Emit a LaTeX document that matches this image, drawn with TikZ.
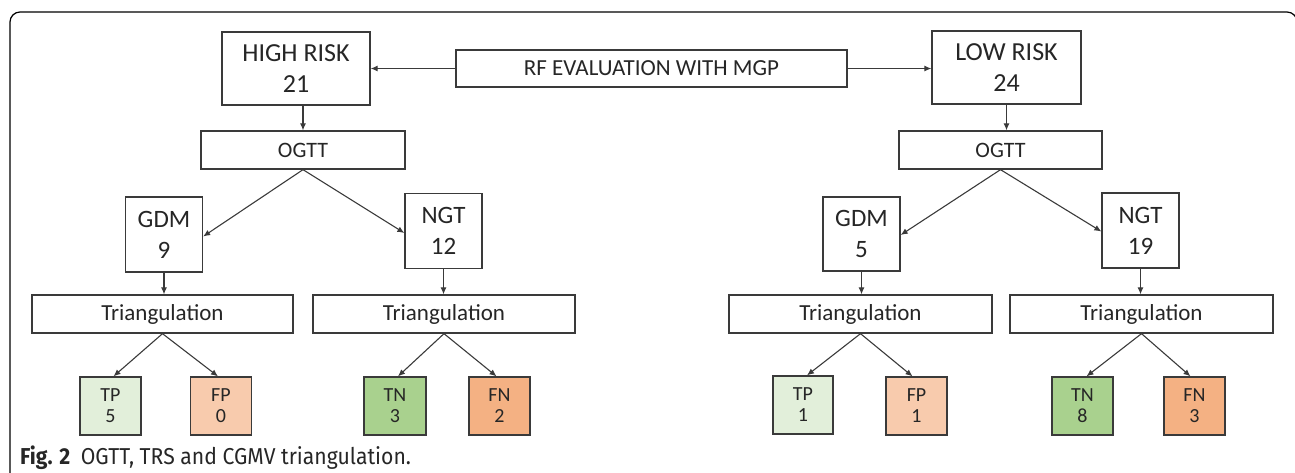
\documentclass[tikz,border=0pt]{standalone}
\usepackage{fontspec}
\usepackage{graphicx}
\setmainfont{Carlito}
\newfontfamily\capfont{Fira Sans}
\usetikzlibrary{arrows.meta}
\definecolor{linec}{HTML}{3A3A3A}
\definecolor{textc}{HTML}{262626}
\definecolor{tpc}{HTML}{E2EFDA}
\definecolor{fpc}{HTML}{F8CBAD}
\definecolor{tnc}{HTML}{A9D18E}
\definecolor{fnc}{HTML}{F4B183}
\tikzset{
  box/.style={draw=linec, line width=1.3pt, fill=white, inner sep=0pt, align=center, text=textc},
  riskbox/.style={box, minimum width=148pt, minimum height=73pt, font=\fontsize{26}{31}\selectfont},
  rfbox/.style={box, minimum width=391pt, minimum height=37pt, font=\fontsize{23}{27}\selectfont},
  ogttbox/.style={box, minimum width=204pt, minimum height=38pt, font=\fontsize{22}{26}\selectfont},
  grpbox/.style={box, minimum width=77pt, minimum height=75pt, font=\fontsize{25}{31}\selectfont},
  tribox/.style={box, minimum width=262pt, minimum height=38pt, font=\fontsize{23}{27}\selectfont},
  resbox/.style={box, minimum width=61pt, minimum height=58pt, font=\fontsize{20}{21}\selectfont},
  arr/.style={draw=linec, line width=1.1pt, -{Latex[length=7pt,width=6pt]}}
}
\begin{document}
\begin{tikzpicture}[x=1pt,y=-1pt]
\useasboundingbox (0,0) rectangle (1295,472);
% frame
\draw[line width=1.2pt, rounded corners=10pt] (10,474) -- (10,12) -- (1297,12) -- (1297,474);

% top
\node[riskbox] (high) at (296,68.5) {HIGH RISK\\21};
\node[rfbox] (rf) at (651.5,68.5) {RF EVALUATION WITH MGP};
\node[riskbox, minimum width=149pt] (low) at (1006.5,67.5) {LOW RISK\\24};

% OGTT
\node[ogttbox] (ogttL) at (303,150) {OGTT};
\node[ogttbox, minimum width=203pt] (ogttR) at (1000.5,150) {OGTT};

% groups
\node[grpbox] (gdmL) at (164,234.5) {GDM\\9};
\node[grpbox] (ngtL) at (443.5,231) {NGT\\12};
\node[grpbox, minimum height=74pt] (gdmR) at (861.5,234) {GDM\\5};
\node[grpbox] (ngtR) at (1140.5,230.5) {NGT\\19};

% triangulation
\node[tribox, minimum width=261pt] (triL1) at (162.5,314) {Triangulation};
\node[tribox] (triL2) at (444,314) {Triangulation};
\node[tribox, minimum width=263pt] (triR1) at (860.5,314) {Triangulation};
\node[tribox, minimum width=263pt] (triR2) at (1141.5,314) {Triangulation};

% results
\node[resbox, fill=tpc] (tpL) at (110.5,406) {TP\\5};
\node[resbox, fill=fpc] (fpL) at (221,406) {FP\\0};
\node[resbox, fill=tnc, minimum width=62pt] (tnL) at (395,406) {TN\\3};
\node[resbox, fill=fnc] (fnL) at (499.5,406) {FN\\2};
\node[resbox, fill=tpc, minimum width=60pt] (tpR) at (803,405) {TP\\1};
\node[resbox, fill=fpc] (fpR) at (916.5,406) {FP\\1};
\node[resbox, fill=tnc] (tnR) at (1082.5,406) {TN\\8};
\node[resbox, fill=fnc] (fnR) at (1194.5,406) {FN\\3};

% arrows top
\draw[arr] (rf.west) -- (high.east);
\draw[arr] (rf.east) -- (rf.east -| low.west);
\draw[arr] (ogttL.north |- high.south) -- (ogttL.north);
\draw[arr] (low.south) -- (low.south |- ogttR.north);

% OGTT to groups
\draw[arr] (ogttL.south) -- ([yshift=-2pt]gdmL.east);
\draw[arr] (ogttL.south) -- ([yshift=-2pt]ngtL.west);
\draw[arr] (ogttR.south) -- ([yshift=-1pt]gdmR.east);
\draw[arr] (ogttR.south) -- ([yshift=-1pt]ngtR.west);

% groups to triangulation
\draw[arr] (gdmL.south) -- (gdmL.south |- triL1.north);
\draw[arr] (ngtL.south) -- (ngtL.south |- triL2.north);
\draw[arr] (gdmR.south) -- (gdmR.south |- triR1.north);
\draw[arr] (ngtR.south) -- (ngtR.south |- triR2.north);

% triangulation to results
\draw[arr] (triL1.south) -- ([xshift=3pt]tpL.north);
\draw[arr] (triL1.south) -- ([xshift=-3pt]fpL.north);
\draw[arr] (triL2.south) -- ([xshift=3pt]tnL.north);
\draw[arr] (triL2.south) -- ([xshift=-3pt]fnL.north);
\draw[arr] (triR1.south) -- ([xshift=4pt]tpR.north);
\draw[arr] (triR1.south) -- ([xshift=-4pt]fpR.north);
\draw[arr] (triR2.south) -- ([xshift=4pt]tnR.north);
\draw[arr] (triR2.south) -- ([xshift=-4pt]fnR.north);

% caption
\node[anchor=base west, inner sep=0pt, text=textc, font=\capfont\fontsize{23}{26}\selectfont] (cap) at (20,464)
  {\scalebox{0.92}[1]{\textbf{Fig. 2}\hspace{0.5em}OGTT, TRS and CGMV triangulation.}};
\end{tikzpicture}
\end{document}
